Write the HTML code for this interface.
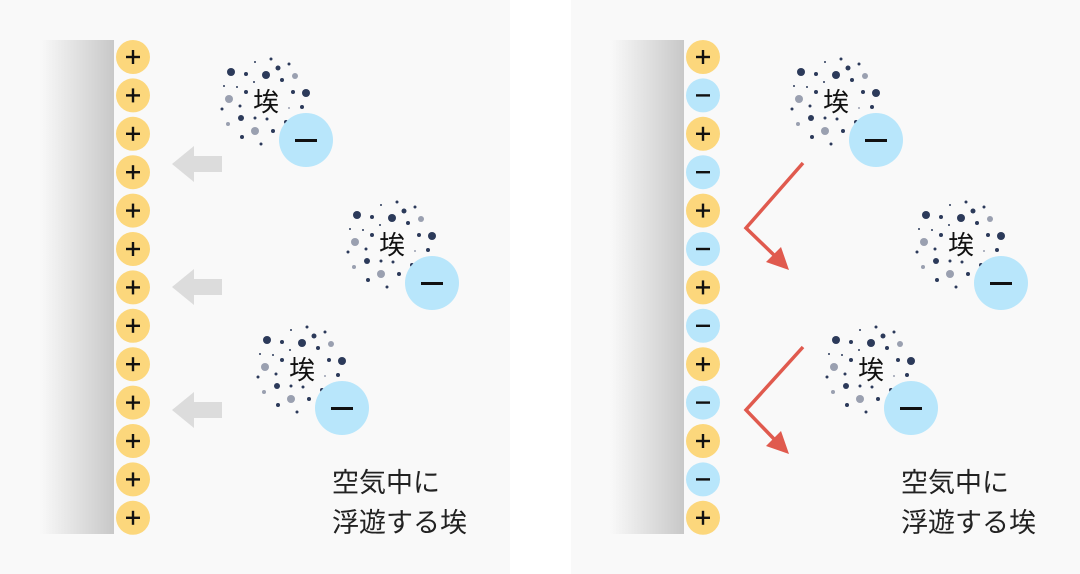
<!DOCTYPE html>
<html><head><meta charset="utf-8"><style>
html,body{margin:0;padding:0;background:#fff;}
svg{display:block;}
text{font-family:"Liberation Sans","Noto Sans CJK JP",sans-serif;}
</style></head><body>
<svg width="1080" height="574" viewBox="0 0 1080 574" xmlns="http://www.w3.org/2000/svg">
<defs>
<linearGradient id="wg" x1="0" x2="1" y1="0" y2="0">
<stop offset="0" stop-color="#f9f9f9"/><stop offset="1" stop-color="#c8c8c8"/>
</linearGradient>
<g id="dust">
<circle cx="-35" cy="-29" r="4" fill="#2c3a5a"/>
<circle cx="-20" cy="-27" r="2" fill="#2c3a5a"/>
<circle cx="0" cy="-26" r="4" fill="#2c3a5a"/>
<circle cx="12" cy="-33" r="2.5" fill="#2c3a5a"/>
<circle cx="23" cy="-37" r="1.5" fill="#2c3a5a"/>
<circle cx="5" cy="-42" r="1.5" fill="#2c3a5a"/>
<circle cx="-11" cy="-39" r="1" fill="#2c3a5a"/>
<circle cx="29" cy="-25" r="3" fill="#9aa0b0"/>
<circle cx="16" cy="-21" r="2" fill="#2c3a5a"/>
<circle cx="-12" cy="-19" r="1" fill="#2c3a5a"/>
<circle cx="-29" cy="-14" r="1" fill="#2c3a5a"/>
<circle cx="-42" cy="-15" r="1" fill="#2c3a5a"/>
<circle cx="-20" cy="-9" r="2" fill="#2c3a5a"/>
<circle cx="-37" cy="-2" r="4" fill="#9aa0b0"/>
<circle cx="-44" cy="8" r="1.5" fill="#2c3a5a"/>
<circle cx="-26" cy="5" r="1.5" fill="#2c3a5a"/>
<circle cx="27" cy="-9" r="2" fill="#2c3a5a"/>
<circle cx="40" cy="-8" r="4" fill="#2c3a5a"/>
<circle cx="36" cy="6" r="2" fill="#2c3a5a"/>
<circle cx="23" cy="7" r="1" fill="#9aa0b0"/>
<circle cx="-25" cy="17" r="3" fill="#2c3a5a"/>
<circle cx="-11" cy="17" r="1.5" fill="#2c3a5a"/>
<circle cx="1" cy="18" r="1.5" fill="#2c3a5a"/>
<circle cx="-38" cy="23" r="2" fill="#9aa0b0"/>
<circle cx="-11" cy="30" r="4" fill="#9aa0b0"/>
<circle cx="7" cy="30" r="2" fill="#2c3a5a"/>
<circle cx="-24" cy="36" r="2" fill="#2c3a5a"/>
<circle cx="-5" cy="43" r="1.5" fill="#2c3a5a"/>
<circle cx="20" cy="21" r="2" fill="#2c3a5a"/>
<text x="0" y="10" font-size="26" text-anchor="middle" fill="#111">埃</text>
<circle cx="40" cy="39" r="27" fill="#b8e6fb"/>
<rect x="29" y="38" width="22" height="3" fill="#111"/>
</g>
<g id="plus"><circle r="17" fill="#fcd77c"/><rect x="-7" y="-1.2" width="14" height="2.4" fill="#111"/><rect x="-1.2" y="-7" width="2.4" height="14" fill="#111"/></g>
<g id="minus"><circle r="17" fill="#b8e6fb"/><rect x="-7" y="-1.2" width="14" height="2.4" fill="#111"/></g>
<g id="garrow"><polygon points="0,0 22,-18 22,-8 50,-8 50,8 22,8 22,18" fill="#dcdcdc"/></g>
</defs>
<rect x="0" y="0" width="510" height="574" fill="#f9f9f9"/>
<rect x="571" y="0" width="509" height="574" fill="#f9f9f9"/>
<rect x="40" y="40" width="74" height="494" fill="url(#wg)"/>
<rect x="610" y="40" width="74" height="494" fill="url(#wg)"/>
<g>
<use href="#plus" x="133" y="57"/><use href="#plus" x="133" y="95.4"/><use href="#plus" x="133" y="133.8"/><use href="#plus" x="133" y="172.2"/><use href="#plus" x="133" y="210.6"/><use href="#plus" x="133" y="249"/><use href="#plus" x="133" y="287.4"/><use href="#plus" x="133" y="325.8"/><use href="#plus" x="133" y="364.2"/><use href="#plus" x="133" y="402.6"/><use href="#plus" x="133" y="441"/><use href="#plus" x="133" y="479.4"/><use href="#plus" x="133" y="517.8"/>
<use href="#plus" x="703" y="57"/><use href="#minus" x="703" y="95.4"/><use href="#plus" x="703" y="133.8"/><use href="#minus" x="703" y="172.2"/><use href="#plus" x="703" y="210.6"/><use href="#minus" x="703" y="249"/><use href="#plus" x="703" y="287.4"/><use href="#minus" x="703" y="325.8"/><use href="#plus" x="703" y="364.2"/><use href="#minus" x="703" y="402.6"/><use href="#plus" x="703" y="441"/><use href="#minus" x="703" y="479.4"/><use href="#plus" x="703" y="517.8"/>
</g>
<use href="#garrow" x="172" y="164"/>
<use href="#garrow" x="172" y="287"/>
<use href="#garrow" x="172" y="410"/>
<use href="#dust" x="266" y="101"/>
<use href="#dust" x="392" y="244"/>
<use href="#dust" x="302" y="369"/>
<use href="#dust" x="836" y="101"/>
<use href="#dust" x="961" y="244"/>
<use href="#dust" x="871" y="369"/>
<g stroke="#e05a4e" stroke-width="3.5" fill="none">
<polyline points="803,163 746,228 775,256"/>
<polyline points="803,347 746,410 775,440"/>
</g>
<polygon points="789,270 766,262 781,247" fill="#e05a4e"/>
<polygon points="789,454 766,446 781,431" fill="#e05a4e"/>
<g font-size="27" fill="#222">
<text x="332" y="492">空気中に</text>
<text x="332" y="532">浮遊する埃</text>
<text x="901" y="492">空気中に</text>
<text x="901" y="532">浮遊する埃</text>
</g>
</svg>
</body></html>
